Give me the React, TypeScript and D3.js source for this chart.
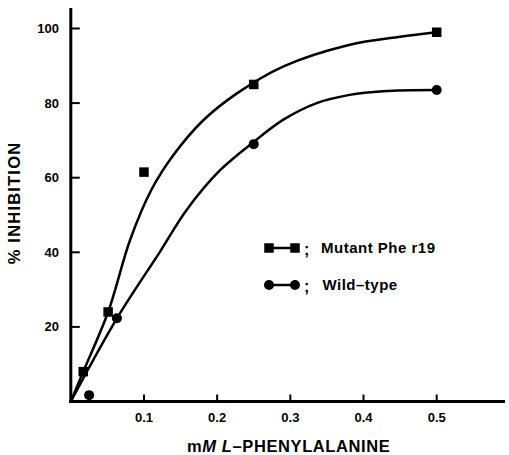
import React from "react";
import * as d3 from "d3";

const W = 509;
const H = 455;

const xTicks = [0.1, 0.2, 0.3, 0.4, 0.5];
const yTicks = [20, 40, 60, 80, 100];

// measured points
const mutantX = [0.017, 0.051, 0.1, 0.25, 0.5];
const mutantY = [8, 24, 61.5, 85, 99];
const wildX = [0.025, 0.063, 0.25, 0.5];
const wildY = [1.7, 22.3, 69, 83.5];

// hand-drawn fitted curves
const mutantCurveX = [0, 0.017, 0.051, 0.081, 0.11, 0.14, 0.18, 0.227, 0.29, 0.38, 0.45, 0.5];
const mutantCurveY = [0, 8, 24, 43.3, 56.7, 66, 75.2, 82.6, 89.8, 95.6, 97.8, 99];
const wildCurveX = [0, 0.063, 0.122, 0.158, 0.204, 0.25, 0.29, 0.336, 0.381, 0.427, 0.5];
const wildCurveY = [0, 22.3, 40.2, 51.3, 62, 69.6, 75.5, 80, 82.2, 83.2, 83.5];

const legendLabels = ["Mutant Phe r19", "Wild\u2013type"];

const FONT = "'Liberation Sans', Arial, Helvetica, sans-serif";

export default function App() {
  const x = d3.scaleLinear().domain([0, 0.5]).range([70.8, 436.7]);
  const y = d3.scaleLinear().domain([0, 100]).range([401.5, 28.5]);

  const line = d3
    .line<[number, number]>()
    .x((d) => x(d[0]))
    .y((d) => y(d[1]))
    .curve(d3.curveCatmullRom.alpha(0.5));

  const mutantCurve = mutantCurveX.map((v, i) => [v, mutantCurveY[i]] as [number, number]);
  const wildCurve = wildCurveX.map((v, i) => [v, wildCurveY[i]] as [number, number]);

  const sq = 9.5;
  const r = 5;
  const x0 = x(0);
  const y0 = y(0);

  return (
    <svg
      width={W}
      height={H}
      style={{ position: "absolute", left: 0, top: 0, background: "#fff" }}
      fontFamily={FONT}
      fontWeight="bold"
    >
      <rect x={0} y={0} width={W} height={H} fill="#fff" />
      {/* axes */}
      <line x1={x0} y1={8} x2={x0} y2={y0 + 1.5} stroke="#000" strokeWidth={3} />
      <line x1={x0 - 1.5} y1={y0} x2={505} y2={y0} stroke="#000" strokeWidth={3} />
      {yTicks.map((t) => (
        <g key={"y" + t}>
          <line x1={x0} x2={x0 + 9} y1={y(t)} y2={y(t)} stroke="#000" strokeWidth={2} />
          <text x={59} y={y(t)} dy="0.35em" textAnchor="end" fontSize={13} fill="#000">
            {t}
          </text>
        </g>
      ))}
      {xTicks.map((t) => (
        <g key={"x" + t}>
          <line x1={x(t)} x2={x(t)} y1={y0} y2={y0 - 7} stroke="#000" strokeWidth={2} />
          <text x={x(t)} y={417} dy="0.35em" textAnchor="middle" fontSize={13} fill="#000">
            {t.toFixed(1)}
          </text>
        </g>
      ))}
      {/* axis titles */}
      <text x={187} y={446} dy="0.35em" fontSize={16.5} letterSpacing={0.6} fill="#000">
        m<tspan fontStyle="italic">M</tspan> <tspan fontStyle="italic">L</tspan>{"\u2013PHENYLALANINE"}
      </text>
      <text
        transform={`translate(14,203) rotate(-90)`}
        textAnchor="middle"
        dy="0.35em"
        fontSize={16.5}
        letterSpacing={1.2}
        fill="#000"
      >
        % INHIBITION
      </text>
      {/* curves */}
      <path d={line(mutantCurve) || ""} fill="none" stroke="#000" strokeWidth={2.5} />
      <path d={line(wildCurve) || ""} fill="none" stroke="#000" strokeWidth={2.5} />
      {/* markers */}
      {mutantX.map((v, i) => (
        <rect
          key={"m" + i}
          x={x(v) - sq / 2}
          y={y(mutantY[i]) - sq / 2}
          width={sq}
          height={sq}
          fill="#000"
        />
      ))}
      {wildX.map((v, i) => (
        <circle key={"w" + i} cx={x(v)} cy={y(wildY[i])} r={r} fill="#000" />
      ))}
      {/* legend */}
      <g>
        <line x1={269} x2={295} y1={248} y2={248} stroke="#000" strokeWidth={2.5} />
        <rect x={269 - sq / 2} y={248 - sq / 2} width={sq} height={sq} fill="#000" />
        <rect x={295 - sq / 2} y={248 - sq / 2} width={sq} height={sq} fill="#000" />
        <text x={304} y={249} dy="0.35em" fontSize={16} fill="#000">;</text>
        <text x={321} y={248} dy="0.35em" fontSize={15} letterSpacing={0.5} fill="#000">{legendLabels[0]}</text>

        <line x1={269} x2={295} y1={285} y2={285} stroke="#000" strokeWidth={2.5} />
        <circle cx={269} cy={285} r={r} fill="#000" />
        <circle cx={295} cy={285} r={r} fill="#000" />
        <text x={304} y={286} dy="0.35em" fontSize={16} fill="#000">;</text>
        <text x={322.5} y={285} dy="0.35em" fontSize={15} letterSpacing={0.5} fill="#000">{legendLabels[1]}</text>
      </g>
    </svg>
  );
}
